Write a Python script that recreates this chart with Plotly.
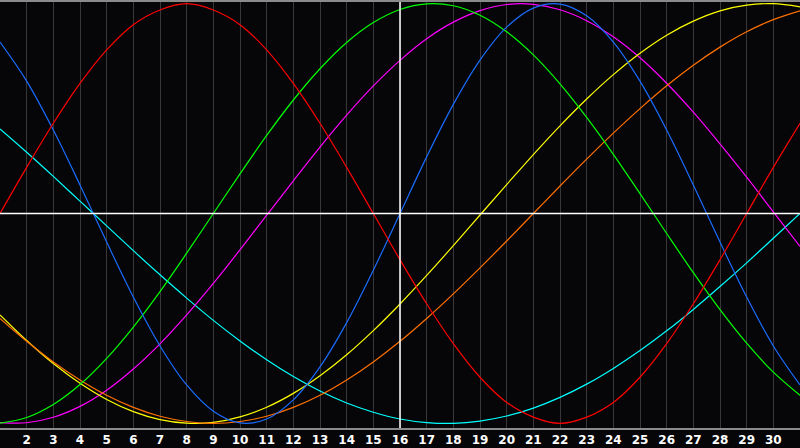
import plotly.graph_objects as go

days = list(range(1, 32))
tick_days = list(range(2, 31))
tick_labels = [str(d) for d in tick_days]
today = 16

# values, one per day (1..31), scaled to [-1, 1]
emotional = [0, .22, .43, .62, .78, .90, .97, 1, .97, .90, .78, .62, .43, .22, 0,
             -.22, -.43, -.62, -.78, -.90, -.97, -1, -.97, -.90, -.78, -.62, -.43, -.22, 0, .22, .43]
intellectual = [-.999, -.972, -.910, -.815, -.690, -.541, -.372, -.189, 0, .189, .372, .541, .690, .815, .910,
                .972, .999, .990, .945, .866, .756, .618, .458, .282, .095, -.095, -.282, -.458, -.618, -.756, -.866]
physical = [.817, .631, .398, .136, -.136, -.398, -.631, -.817, -.942, -.998, -.979, -.888, -.731, -.520, -.270,
            0, .270, .520, .731, .888, .979, .998, .942, .817, .631, .398, .136, -.136, -.398, -.631, -.817]
intuitive = [-.996, -.997, -.971, -.919, -.842, -.741, -.621, -.483, -.333, -.173, -.008, .156, .317, .469, .608,
             .730, .833, .912, .967, .996, .997, .971, .919, .842, .742, .621, .483, .332, .173, .008, -.157]
aesthetic = [-.483, -.605, -.715, -.809, -.886, -.944, -.982, -.999, -.995, -.969, -.923, -.857, -.773, -.673, -.558,
             -.431, -.295, -.153, -.007, .138, .281, .418, .546, .662, .764, .850, .917, .966, .993, 1.0, .985]
awareness = [-.5, -.609, -.707, -.793, -.866, -.924, -.966, -.991, -1, -.991, -.966, -.924, -.866, -.793, -.707,
             -.609, -.5, -.383, -.259, -.131, 0, .131, .259, .383, .5, .609, .707, .793, .866, .924, .966]
spiritual = [.403, .292, .177, .059, -.059, -.177, -.292, -.403, -.509, -.607, -.697, -.777, -.846, -.903, -.947,
             -.979, -.996, -1.0, -.989, -.965, -.927, -.876, -.813, -.738, -.653, -.559, -.457, -.348, -.235, -.118, 0]

series = [
    ("Spiritual", spiritual, "#00ffff"),
    ("Intuitive", intuitive, "#ff00ff"),
    ("Aesthetic", aesthetic, "#ffff00"),
    ("Awareness", awareness, "#ff7000"),
    ("Intellectual", intellectual, "#00ff00"),
    ("Physical", physical, "#1a6cff"),
    ("Emotional", emotional, "#ff0000"),
]

fig = go.Figure()
for name, vals, col in series:
    fig.add_trace(go.Scatter(x=days, y=vals, mode="lines", name=name,
                             line=dict(color=col, width=1.2, shape="spline"),
                             hoverinfo="skip"))

fig.add_shape(type="line", xref="x", yref="paper", x0=today, x1=today, y0=0, y1=1,
              line=dict(color="#ffffff", width=1.5), layer="above")
fig.add_shape(type="line", xref="paper", yref="y", x0=0, x1=1, y0=0, y1=0,
              line=dict(color="#ffffff", width=1.5), layer="above")

fig.update_layout(
    width=800, height=448,
    margin=dict(l=0, r=0, t=0, b=20),
    paper_bgcolor="#060608", plot_bgcolor="#060608",
    showlegend=False,
    xaxis=dict(range=[1, 31], tickvals=tick_days, ticktext=tick_labels,
               showgrid=True, gridcolor="#383838", gridwidth=1,
               showline=True, linecolor="#8a8a8a", linewidth=2, mirror=True,
               zeroline=False, ticks="", ticklabelstandoff=0,
               tickfont=dict(family="DejaVu Sans", size=12, color="#ffffff", weight="bold")),
    yaxis=dict(range=[-1.022, 1.008], showgrid=False, zeroline=False,
               showticklabels=False, showline=True, linecolor="#8a8a8a", linewidth=2),
)

fig.write_html("out.html", config={"displayModeBar": False},
               post_script="document.body.style.margin='0px';document.body.style.overflow='hidden';")
